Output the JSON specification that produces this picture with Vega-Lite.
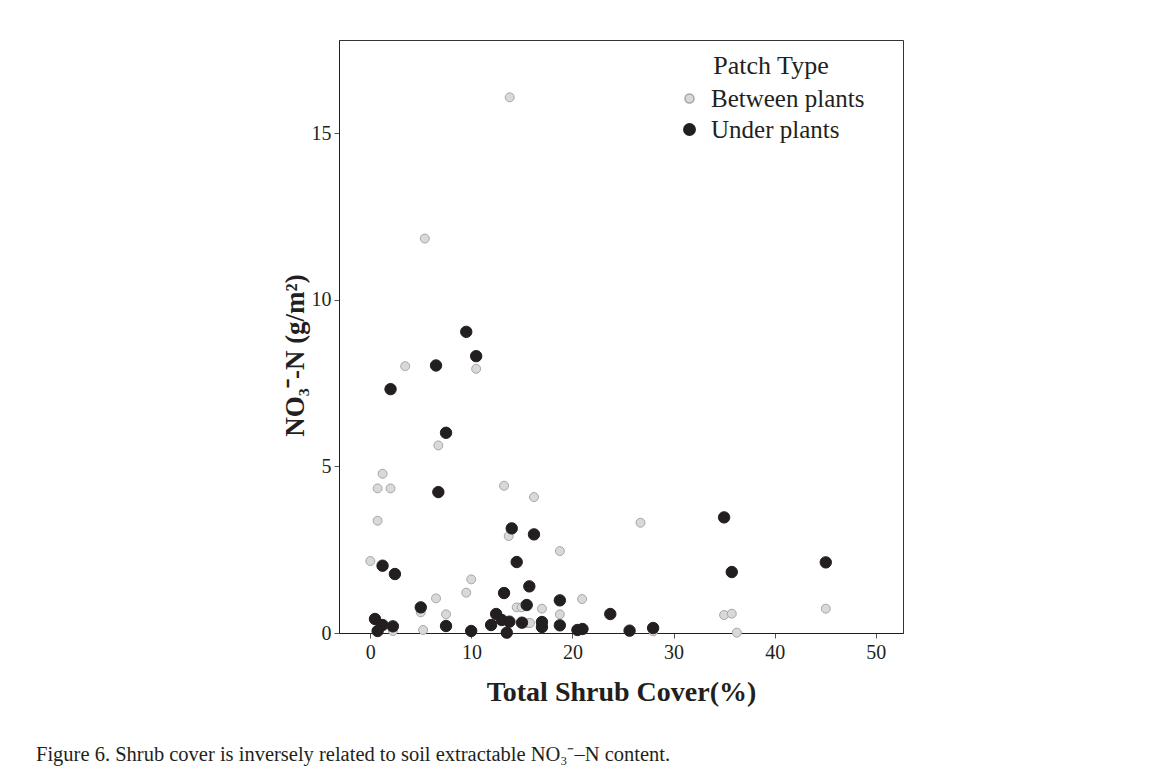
{
  "$schema": "https://vega.github.io/schema/vega-lite/v6.json",
  "width": 564,
  "height": 593,
  "autosize": {"type": "none"},
  "padding": {"left": 339, "top": 40, "right": 250, "bottom": 142},
  "background": "white",
  "title": {
    "text": "Figure 6. Shrub cover is inversely related to soil extractable NO₃⁻–N content.",
    "orient": "bottom",
    "anchor": "start",
    "frame": "group",
    "dx": -303,
    "offset": 39,
    "font": "Liberation Serif",
    "fontSize": 20.5,
    "fontWeight": "normal",
    "color": "#231f20"
  },
  "config": {
    "view": {"stroke": "#333333", "strokeWidth": 1},
    "axis": {
      "labelFont": "Liberation Serif",
      "labelFontSize": 20,
      "labelColor": "#231f20",
      "titleFont": "Liberation Serif",
      "titleFontWeight": "bold",
      "titleColor": "#231f20",
      "domainColor": "#231f20",
      "tickColor": "#555555",
      "tickSize": 5,
      "grid": false
    },
    "legend": {
      "titleFont": "Liberation Serif",
      "titleFontSize": 26,
      "titleFontWeight": "normal",
      "titleColor": "#231f20",
      "labelFont": "Liberation Serif",
      "labelFontSize": 25,
      "labelColor": "#231f20"
    }
  },
  "data": {
    "values": [
      {"x": 13.79, "y": 16.08, "patch": "Between plants"},
      {"x": 5.39, "y": 11.84, "patch": "Between plants"},
      {"x": 3.45, "y": 8.01, "patch": "Between plants"},
      {"x": 10.47, "y": 7.93, "patch": "Between plants"},
      {"x": 6.73, "y": 5.63, "patch": "Between plants"},
      {"x": 1.21, "y": 4.78, "patch": "Between plants"},
      {"x": 0.72, "y": 4.34, "patch": "Between plants"},
      {"x": 2.0, "y": 4.34, "patch": "Between plants"},
      {"x": 13.23, "y": 4.42, "patch": "Between plants"},
      {"x": 16.19, "y": 4.08, "patch": "Between plants"},
      {"x": 0.72, "y": 3.37, "patch": "Between plants"},
      {"x": 13.69, "y": 2.91, "patch": "Between plants"},
      {"x": 18.75, "y": 2.46, "patch": "Between plants"},
      {"x": 0.0, "y": 2.16, "patch": "Between plants"},
      {"x": 9.98, "y": 1.61, "patch": "Between plants"},
      {"x": 9.49, "y": 1.21, "patch": "Between plants"},
      {"x": 6.5, "y": 1.04, "patch": "Between plants"},
      {"x": 20.95, "y": 1.02, "patch": "Between plants"},
      {"x": 14.48, "y": 0.77, "patch": "Between plants"},
      {"x": 14.98, "y": 0.77, "patch": "Between plants"},
      {"x": 16.98, "y": 0.73, "patch": "Between plants"},
      {"x": 4.99, "y": 0.62, "patch": "Between plants"},
      {"x": 7.49, "y": 0.56, "patch": "Between plants"},
      {"x": 18.75, "y": 0.56, "patch": "Between plants"},
      {"x": 15.53, "y": 0.3, "patch": "Between plants"},
      {"x": 15.8, "y": 0.3, "patch": "Between plants"},
      {"x": 5.22, "y": 0.09, "patch": "Between plants"},
      {"x": 2.23, "y": 0.06, "patch": "Between plants"},
      {"x": 26.73, "y": 3.31, "patch": "Between plants"},
      {"x": 35.0, "y": 0.54, "patch": "Between plants"},
      {"x": 35.76, "y": 0.58, "patch": "Between plants"},
      {"x": 36.26, "y": 0.01, "patch": "Between plants"},
      {"x": 45.06, "y": 0.73, "patch": "Between plants"},
      {"x": 27.98, "y": 0.05, "patch": "Between plants"},
      {"x": 9.49, "y": 9.04, "patch": "Under plants"},
      {"x": 10.47, "y": 8.31, "patch": "Under plants"},
      {"x": 6.5, "y": 8.03, "patch": "Under plants"},
      {"x": 2.0, "y": 7.32, "patch": "Under plants"},
      {"x": 7.49, "y": 6.01, "patch": "Under plants"},
      {"x": 6.73, "y": 4.23, "patch": "Under plants"},
      {"x": 13.99, "y": 3.14, "patch": "Under plants"},
      {"x": 16.19, "y": 2.96, "patch": "Under plants"},
      {"x": 14.48, "y": 2.13, "patch": "Under plants"},
      {"x": 1.21, "y": 2.02, "patch": "Under plants"},
      {"x": 2.43, "y": 1.77, "patch": "Under plants"},
      {"x": 15.73, "y": 1.4, "patch": "Under plants"},
      {"x": 13.23, "y": 1.2, "patch": "Under plants"},
      {"x": 18.75, "y": 0.98, "patch": "Under plants"},
      {"x": 4.99, "y": 0.77, "patch": "Under plants"},
      {"x": 15.47, "y": 0.84, "patch": "Under plants"},
      {"x": 12.45, "y": 0.57, "patch": "Under plants"},
      {"x": 0.46, "y": 0.42, "patch": "Under plants"},
      {"x": 13.0, "y": 0.39, "patch": "Under plants"},
      {"x": 13.76, "y": 0.34, "patch": "Under plants"},
      {"x": 15.0, "y": 0.31, "patch": "Under plants"},
      {"x": 16.98, "y": 0.33, "patch": "Under plants"},
      {"x": 16.98, "y": 0.18, "patch": "Under plants"},
      {"x": 11.95, "y": 0.24, "patch": "Under plants"},
      {"x": 7.49, "y": 0.21, "patch": "Under plants"},
      {"x": 18.75, "y": 0.23, "patch": "Under plants"},
      {"x": 2.23, "y": 0.2, "patch": "Under plants"},
      {"x": 1.21, "y": 0.24, "patch": "Under plants"},
      {"x": 0.72, "y": 0.06, "patch": "Under plants"},
      {"x": 9.98, "y": 0.06, "patch": "Under plants"},
      {"x": 13.5, "y": 0.01, "patch": "Under plants"},
      {"x": 20.49, "y": 0.09, "patch": "Under plants"},
      {"x": 20.99, "y": 0.12, "patch": "Under plants"},
      {"x": 23.74, "y": 0.57, "patch": "Under plants"},
      {"x": 25.65, "y": 0.07, "patch": "Under plants"},
      {"x": 27.98, "y": 0.15, "patch": "Under plants"},
      {"x": 35.0, "y": 3.47, "patch": "Under plants"},
      {"x": 35.76, "y": 1.83, "patch": "Under plants"},
      {"x": 45.06, "y": 2.12, "patch": "Under plants"}
    ]
  },
  "mark": {"type": "point", "filled": true, "opacity": 1, "strokeWidth": 1},
  "encoding": {
    "x": {
      "field": "x",
      "type": "quantitative",
      "scale": {"domain": [-3.1, 52.7], "nice": false, "zero": false},
      "axis": {
        "values": [0, 10, 20, 30, 40, 50],
        "title": "Total Shrub Cover(%)",
        "titleFontSize": 28,
        "titlePadding": 16,
        "labelPadding": 4
      }
    },
    "y": {
      "field": "y",
      "type": "quantitative",
      "scale": {"domain": [0, 17.8], "nice": false},
      "axis": {
        "values": [0, 5, 10, 15],
        "title": "NO₃⁻-N (g/m²)",
        "titleFontSize": 27,
        "titlePadding": 2,
        "titleY": 315,
        "labelPadding": 3
      }
    },
    "color": {
      "field": "patch",
      "type": "nominal",
      "scale": {"domain": ["Between plants", "Under plants"], "range": ["#d9d9d9", "#231f20"]},
      "legend": {
        "title": "Patch Type",
        "orient": "none",
        "legendX": 338,
        "legendY": 13,
        "titleAnchor": "middle",
        "titlePadding": 7,
        "rowPadding": 5,
        "labelOffset": 9,
        "padding": 0
      }
    },
    "stroke": {
      "field": "patch",
      "type": "nominal",
      "scale": {"domain": ["Between plants", "Under plants"], "range": ["#a6a6a6", "#231f20"]}
    },
    "size": {
      "field": "patch",
      "type": "nominal",
      "scale": {"domain": ["Between plants", "Under plants"], "range": [80, 130]}
    },
    "order": {"field": "patch", "sort": "ascending"}
  }
}
